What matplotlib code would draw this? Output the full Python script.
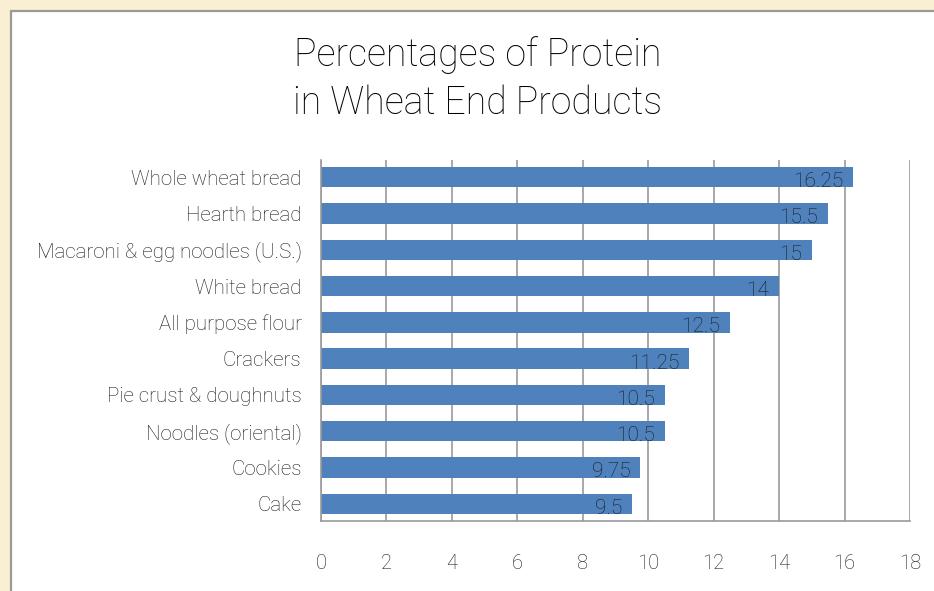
import matplotlib
matplotlib.use('Agg')
import matplotlib.pyplot as plt
from matplotlib.patches import Rectangle
import numpy as np

products = ['Whole wheat bread', 'Hearth bread', 'Macaroni & egg noodles (U.S.)',
            'White bread', 'All purpose flour', 'Crackers', 'Pie crust & doughnuts',
            'Noodles (oriental)', 'Cookies', 'Cake']
protein = [16.25, 15.5, 15, 14, 12.5, 11.25, 10.5, 10.5, 9.75, 9.5]
value_labels = ['16.25', '15.5', '15', '14', '12.5', '11.25', '10.5', '10.5', '9.75', '9.5']
xticks = [0, 2, 4, 6, 8, 10, 12, 14, 16, 18]

plt.rcParams['font.family'] = ['Roboto', 'DejaVu Sans']
plt.rcParams['font.weight'] = 'light'

fig = plt.figure(figsize=(9.34, 5.91), dpi=100)
fig.patch.set_facecolor('#fbefd3')

# white chart panel with gray border
fig.add_artist(Rectangle((11 / 934, -0.05), 1.0, 1 - 11 / 591 + 0.05,
                         transform=fig.transFigure, facecolor='white',
                         edgecolor='#999999', linewidth=1.6, zorder=0))

ax = fig.add_axes([321 / 934, 1 - 521 / 591, 589 / 934, 361 / 591])
ax.set_facecolor('none')

y = np.arange(len(products))
ax.barh(y, protein, height=0.56, color='#4f81bd', zorder=2)
ax.set_xlim(0, 18)
ax.set_ylim(9.47, -0.47)

ax.set_xticks(xticks)
ax.set_xticklabels([str(t) for t in xticks])
ax.set_yticks(y)
ax.set_yticklabels(products)
ax.tick_params(axis='both', length=0, labelcolor='#1a1a1a')
ax.tick_params(axis='x', pad=24, labelsize=14.5)
ax.tick_params(axis='y', pad=14, labelsize=14.8)
ax.grid(axis='x', color='#999999', linewidth=1.2, zorder=1)
ax.set_axisbelow(True)

for s in ['top', 'right']:
    ax.spines[s].set_visible(False)
for s in ['left', 'bottom']:
    ax.spines[s].set_color('#999999')
    ax.spines[s].set_linewidth(1.2)

for yi, v, lab in zip(y, protein, value_labels):
    ax.text(v - 0.3, yi + 0.12, lab, ha='right', va='center', fontsize=15,
            color='#1a1a1a', zorder=3)

fig.text(478 / 934, 1 - 55 / 591, 'Percentages of Protein', ha='center', va='center',
         fontsize=27, color='black')
fig.text(478 / 934, 1 - 103 / 591, 'in Wheat End Products', ha='center', va='center',
         fontsize=27, color='black')

fig.savefig('out.png', dpi=100, facecolor=fig.get_facecolor())
